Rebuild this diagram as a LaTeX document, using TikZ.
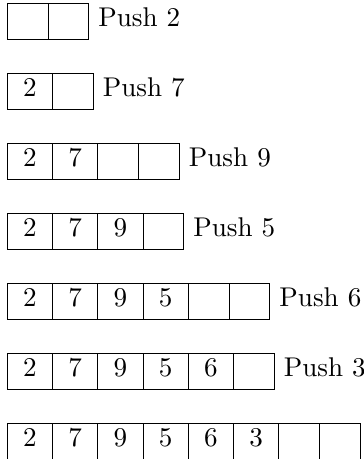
\documentclass[tikz,border=0pt]{standalone}
\usepackage{tikz}
\usetikzlibrary{positioning}

\tikzset{
  cell/.style={draw, rectangle, inner xsep=0pt, inner ysep=0pt, outer sep=0pt,
               text height=8.6pt, text depth=4.7pt, minimum height=13.3pt},
  full/.style={cell, minimum width=16.7pt},
  free/.style={cell, minimum width=15.05pt},
  push/.style={anchor=base west}
}

\begin{document}
\begin{tikzpicture}[x=0.369pt,y=-0.369pt]
    \useasboundingbox (0,0) rectangle (363,459);
    \def\xs{7.3}
    \def\dy{70}
    %Row starts
    \coordinate (s1) at (\xs,21.7);
    \coordinate (s2) at (\xs,21.7+\dy);
    \coordinate (s3) at (\xs,21.7+2*\dy);
    \coordinate (s4) at (\xs,21.7+3*\dy);
    \coordinate (s5) at (\xs,21.7+4*\dy);
    \coordinate (s6) at (\xs,21.7+5*\dy);
    \coordinate (s7) at (\xs,21.7+6*\dy);
    %Row 1
    \node[free, anchor=west] (r1c1) at (s1) {};
    \node[free, right=0pt of r1c1] (r1c2) {};
    \node[push, right=0pt of r1c2.base east, anchor=base west] (p1) {Push 2};
    %Row 2
    \node[full, anchor=west] (r2c1) at (s2) {2};
    \node[free, right=0pt of r2c1] (r2c2) {};
    \node[push, right=0pt of r2c2.base east, anchor=base west] (p2) {Push 7};
    %Row 3
    \node[full, anchor=west] (r3c1) at (s3) {2};
    \node[full, right=0pt of r3c1] (r3c2) {7};
    \node[free, right=0pt of r3c2] (r3c3) {};
    \node[free, right=0pt of r3c3] (r3c4) {};
    \node[push, right=0pt of r3c4.base east, anchor=base west] (p3) {Push 9};
    %Row 4
    \node[full, anchor=west] (r4c1) at (s4) {2};
    \node[full, right=0pt of r4c1] (r4c2) {7};
    \node[full, right=0pt of r4c2] (r4c3) {9};
    \node[free, right=0pt of r4c3] (r4c4) {};
    \node[push, right=0pt of r4c4.base east, anchor=base west] (p4) {Push 5};
    %Row 5
    \node[full, anchor=west] (r5c1) at (s5) {2};
    \node[full, right=0pt of r5c1] (r5c2) {7};
    \node[full, right=0pt of r5c2] (r5c3) {9};
    \node[full, right=0pt of r5c3] (r5c4) {5};
    \node[free, right=0pt of r5c4] (r5c5) {};
    \node[free, right=0pt of r5c5] (r5c6) {};
    \node[push, right=0pt of r5c6.base east, anchor=base west] (p5) {Push 6};
    %Row 6
    \node[full, anchor=west] (r6c1) at (s6) {2};
    \node[full, right=0pt of r6c1] (r6c2) {7};
    \node[full, right=0pt of r6c2] (r6c3) {9};
    \node[full, right=0pt of r6c3] (r6c4) {5};
    \node[full, right=0pt of r6c4] (r6c5) {6};
    \node[free, right=0pt of r6c5] (r6c6) {};
    \node[push, right=0pt of r6c6.base east, anchor=base west] (p6) {Push 3};
    %Row 7
    \node[full, anchor=west] (r7c1) at (s7) {2};
    \node[full, right=0pt of r7c1] (r7c2) {7};
    \node[full, right=0pt of r7c2] (r7c3) {9};
    \node[full, right=0pt of r7c3] (r7c4) {5};
    \node[full, right=0pt of r7c4] (r7c5) {6};
    \node[full, right=0pt of r7c5] (r7c6) {3};
    \node[free, right=0pt of r7c6] (r7c7) {};
    \node[free, right=0pt of r7c7] (r7c8) {};
\end{tikzpicture}
\end{document}
